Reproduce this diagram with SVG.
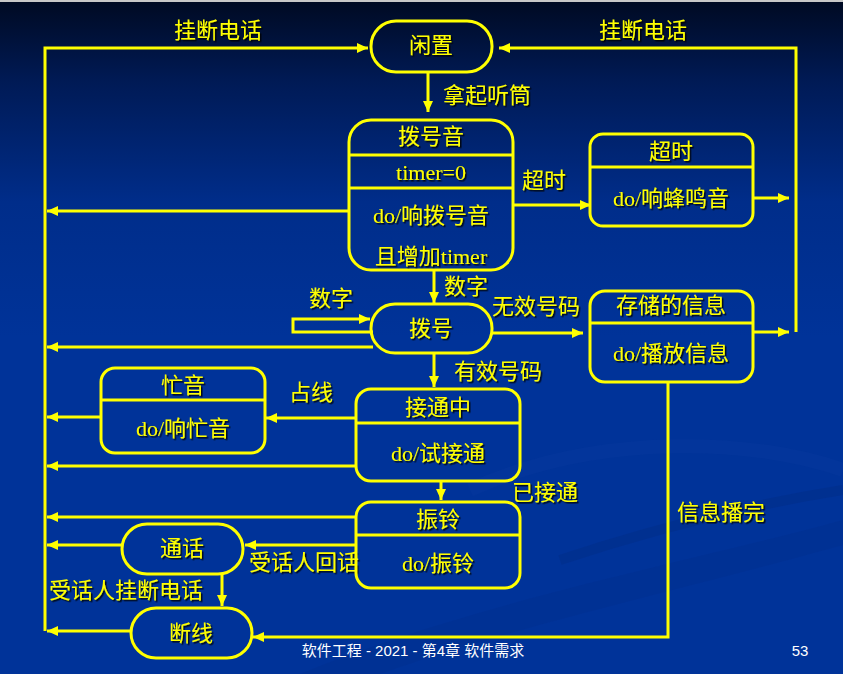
<svg xmlns="http://www.w3.org/2000/svg" width="843" height="674" viewBox="0 0 843 674">
  <defs>
    <linearGradient id="bg" x1="0" y1="0" x2="0" y2="1">
      <stop offset="0" stop-color="#000a22"/>
      <stop offset="0.12" stop-color="#001a55"/>
      <stop offset="0.3" stop-color="#002d8a"/>
      <stop offset="0.5" stop-color="#003399"/>
      <stop offset="1" stop-color="#003399"/>
    </linearGradient>
    <marker id="arr" markerUnits="userSpaceOnUse" markerWidth="11" markerHeight="10" refX="11" refY="5" orient="auto">
      <path d="M0,0 L11,5 L0,10 z" fill="#ffff00"/>
    </marker>
    <filter id="shadow" x="-10%" y="-20%" width="130%" height="150%">
      <feDropShadow dx="1.5" dy="1.5" stdDeviation="0.4" flood-color="#000000" flood-opacity="0.85"/>
    </filter>
  </defs>
  <style>
    .node { fill: none; stroke: #ffff00; stroke-width: 3; }
    .div { stroke: #ffff00; stroke-width: 3; }
    .wire { fill: none; stroke: #ffff00; stroke-width: 3; marker-end: url(#arr); }
    text { fill: #ffff00; font-family: "Noto Sans CJK SC", "Liberation Sans", sans-serif; font-size: 22px; filter: url(#shadow); }
    .c { text-anchor: middle; }
    .ser { font-family: "Liberation Serif", "Noto Sans CJK SC", serif; }
    .foot { fill: #ffffff; font-size: 15px; filter: none; font-family: "Liberation Sans", "Noto Sans CJK SC", sans-serif; }
  </style>

  <!-- background with faint sweeping bands -->
  <rect width="843" height="674" fill="url(#bg)"/>
  <rect width="843" height="2" fill="#c8c8c8"/>
  <path d="M300,674 C480,600 700,560 843,520 L843,545 C700,585 500,630 380,674 z" fill="#00308f" opacity="0.5"/>
  <path d="M470,490 C600,430 760,440 843,470" fill="none" stroke="#08399d" stroke-width="14" opacity="0.4"/>
  <path d="M560,560 C680,520 780,500 843,490" fill="none" stroke="#002d88" stroke-width="10" opacity="0.5"/>

  <!-- connectors -->
  <g id="connectors">
    <path class="wire" d="M45,631 V48 H368"/>
    <path class="wire" d="M796,332 V48 H499"/>
    <path class="wire" d="M428,72 V112"/>
    <path class="wire" d="M349,211 H47"/>
    <path class="wire" d="M513,205 H591"/>
    <path class="wire" d="M753,198 H789"/>
    <path class="wire" d="M434,270 V303"/>
    <path class="wire" d="M373,332 H293 V319 H370"/>
    <path class="wire" d="M373,347 H47"/>
    <path class="wire" d="M492,333 H583"/>
    <path class="wire" d="M753,332 H789"/>
    <path class="wire" d="M434,353 V387"/>
    <path class="wire" d="M356,418 H266"/>
    <path class="wire" d="M356,466 H47"/>
    <path class="wire" d="M101,417 H47"/>
    <path class="wire" d="M441,481 V500"/>
    <path class="wire" d="M356,517 H47"/>
    <path class="wire" d="M356,545 H245"/>
    <path class="wire" d="M122,545 H47"/>
    <path class="wire" d="M222,574 V606"/>
    <path class="wire" d="M131,631 H47"/>
    <path class="wire" d="M668,382 V637 H253"/>
    <text x="218" y="38" class="c">挂断电话</text>
    <text x="643" y="38" class="c">挂断电话</text>
    <text x="487" y="103" class="c">拿起听筒</text>
    <text x="544" y="188" class="c">超时</text>
    <text x="466" y="294" class="c">数字</text>
    <text x="331" y="306" class="c">数字</text>
    <text x="536" y="314" class="c">无效号码</text>
    <text x="498" y="379" class="c">有效号码</text>
    <text x="311" y="400" class="c">占线</text>
    <text x="545" y="500" class="c">已接通</text>
    <text x="304" y="570" class="c">受话人回话</text>
    <text x="126" y="598" class="c">受话人挂断电话</text>
    <text x="721" y="520" class="c">信息播完</text>
  </g>

  <!-- states -->
  <g id="idle">
    <rect class="node" x="371" y="21" width="121" height="51" rx="25"/>
    <text x="431" y="53" class="c">闲置</text>
  </g>
  <g id="dialtone">
    <rect class="node" x="349" y="120" width="164" height="150" rx="22"/>
    <line class="div" x1="349" y1="155" x2="513" y2="155"/>
    <line class="div" x1="349" y1="188" x2="513" y2="188"/>
    <text x="431" y="144" class="c">拨号音</text>
    <text x="431" y="180" class="c ser" font-size="21">timer=0</text>
    <text x="431" y="223" class="c ser">do/响拨号音</text>
    <text x="431" y="264" class="c ser">且增加timer</text>
  </g>
  <g id="timeout">
    <rect class="node" x="590" y="134" width="163" height="92" rx="13"/>
    <line class="div" x1="590" y1="167" x2="753" y2="167"/>
    <text x="671" y="159" class="c">超时</text>
    <text x="671" y="206" class="c ser">do/响蜂鸣音</text>
  </g>
  <g id="dialing">
    <rect class="node" x="371" y="304" width="121" height="49" rx="24"/>
    <text x="431" y="336" class="c">拨号</text>
  </g>
  <g id="recorded">
    <rect class="node" x="590" y="291" width="163" height="91" rx="15"/>
    <line class="div" x1="590" y1="323" x2="753" y2="323"/>
    <text x="671" y="313" class="c">存储的信息</text>
    <text x="671" y="361" class="c ser">do/播放信息</text>
  </g>
  <g id="busy">
    <rect class="node" x="101" y="368" width="164" height="85" rx="14"/>
    <line class="div" x1="101" y1="400" x2="265" y2="400"/>
    <text x="183" y="393" class="c">忙音</text>
    <text x="183" y="436" class="c ser">do/响忙音</text>
  </g>
  <g id="connecting">
    <rect class="node" x="356" y="389" width="164" height="92" rx="15"/>
    <line class="div" x1="356" y1="423" x2="520" y2="423"/>
    <text x="438" y="415" class="c">接通中</text>
    <text x="438" y="461" class="c ser">do/试接通</text>
  </g>
  <g id="ringing">
    <rect class="node" x="356" y="502" width="164" height="86" rx="15"/>
    <line class="div" x1="356" y1="535" x2="520" y2="535"/>
    <text x="438" y="527" class="c">振铃</text>
    <text x="438" y="571" class="c ser">do/振铃</text>
  </g>
  <g id="talking">
    <rect class="node" x="122" y="524" width="121" height="50" rx="25"/>
    <text x="182" y="556" class="c">通话</text>
  </g>
  <g id="disconnected">
    <rect class="node" x="131" y="608" width="121" height="50" rx="25"/>
    <text x="191" y="641" class="c">断线</text>
  </g>

  <!-- footer -->
  <text x="413" y="656" class="c foot">软件工程 - 2021 - 第4章 软件需求</text>
  <text x="800" y="656" class="c foot">53</text>
</svg>
